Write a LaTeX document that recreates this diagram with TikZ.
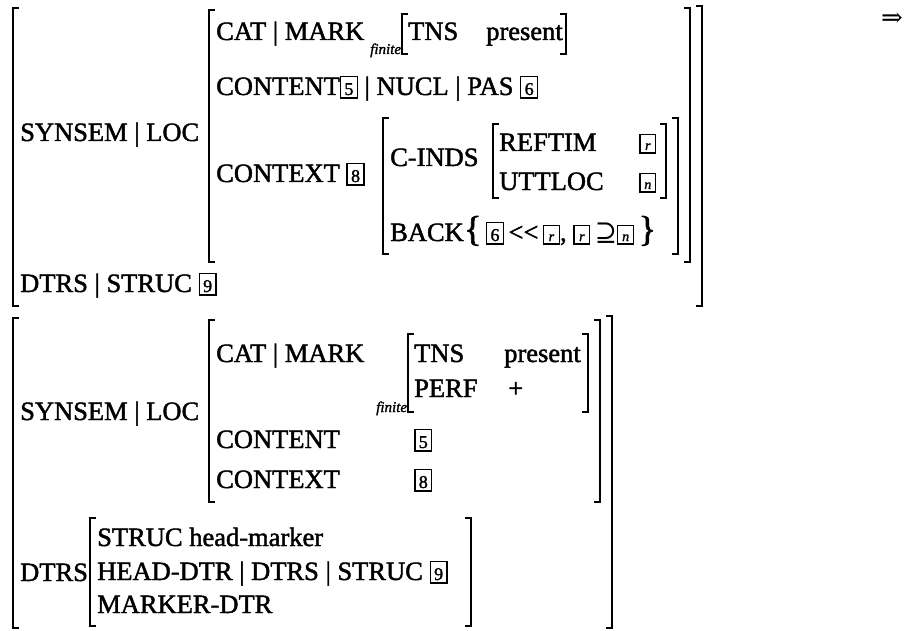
\documentclass[tikz,border=0pt]{standalone}
\usepackage{fontspec}
\setmainfont{Liberation Serif}[FakeBold=1.6]
\newfontfamily\symfont{DejaVu Serif}
\newcommand\fs{\fontsize{26.5}{31}\selectfont}
\newcommand\bx[1]{{\setlength\fboxsep{1.3pt}\setlength\fboxrule{1.3pt}\fbox{\makebox[13pt]{\rule[-1pt]{0pt}{17.5pt}\fontsize{18}{18}\selectfont #1}}}}
\newcommand\sbx[1]{{\setlength\fboxsep{1.3pt}\setlength\fboxrule{1.3pt}\fbox{\makebox[12pt]{\rule[-1pt]{0pt}{14.5pt}\fontsize{14}{14}\selectfont\itshape #1}}}}
\newcommand\LB[3]{\draw[brk] (#1+6,#2) -- (#1,#2) -- (#1,#3) -- (#1+6,#3);}
\newcommand\RB[3]{\draw[brk] (#1-6,#2) -- (#1,#2) -- (#1,#3) -- (#1-6,#3);}
\begin{document}
\begin{tikzpicture}[x=1pt,y=-1pt,
  lbl/.style={anchor=base west,inner sep=0pt,font=\fs},
  sub/.style={anchor=base west,inner sep=0pt,font=\fontsize{15}{15}\selectfont\itshape},
  brk/.style={line width=1.9pt}]
\useasboundingbox (0,0) rectangle (915,631);
% ---------- top AVM ----------
\LB{13}{8}{306}
\RB{702}{6}{306}
\node[lbl] (s1) at (20,141) {SYNSEM | LOC};
\LB{209}{10}{262}
\RB{690}{8}{262}
\node[lbl] (cm1) at (216,40) {CAT | MARK};
\node[sub] (fin1) at (370,54) {finite};
\LB{402}{14}{54}
\RB{566}{14}{54}
\node[lbl] (tns1) at (408,40) {TNS};
\node[lbl] (pr1) at (486,40) {present};
\node[lbl] (ct1) at (216,95) {CONTENT\bx{5} | NUCL | PAS \bx{6}};
\node[lbl] (cx1) at (216,182) {CONTEXT \bx{8}};
\LB{383}{118}{254}
\RB{678}{118}{254}
\node[lbl] (ci1) at (390,166) {C-INDS};
\LB{493}{124}{198}
\RB{666}{124}{198}
\node[lbl] (rt1) at (499,151) {REFTIM};
\node[lbl] (rb1) at (639,150) {\sbx{r}};
\node[lbl] (ut1) at (499,190) {UTTLOC};
\node[lbl] (nb1) at (639,189) {\sbx{n}};
\node[lbl] (bk1) at (390,241) {BACK};
\node[lbl] (bs1) at (464,241) {{\fontsize{36}{36}\selectfont\{}\,\bx{6}\,{<}{<}\,\sbx{r}, \sbx{r}\,{\symfont ⊇}\sbx{n}\,{\fontsize{36}{36}\selectfont\}}};
\node[lbl] (d1) at (20,292) {DTRS | STRUC \bx{9}};
% ---------- bottom AVM ----------
\LB{13}{318}{628}
\RB{612}{316}{628}
\node[lbl] (s2) at (20,420) {SYNSEM | LOC};
\LB{209}{320}{502}
\RB{600}{320}{502}
\node[lbl] (cm2) at (216,362) {CAT | MARK};
\node[sub] (fin2) at (376,412) {finite};
\LB{408}{334}{412}
\RB{588}{334}{412}
\node[lbl] (tns2) at (414,362) {TNS};
\node[lbl] (pr2) at (504,362) {present};
\node[lbl] (pf2) at (414,397) {PERF};
\node[lbl] (pl2) at (508,397) {+};
\node[lbl] (ct2) at (216,448) {CONTENT};
\node[lbl] (b52) at (414,448) {\bx{5}};
\node[lbl] (cx2) at (216,488) {CONTEXT};
\node[lbl] (b82) at (414,488) {\bx{8}};
\node[lbl] (d2) at (20,581) {DTRS};
\LB{90}{518}{626}
\RB{471}{518}{626}
\node[lbl] (st2) at (97,546) {STRUC head-marker};
\node[lbl] (hd2) at (97,580) {HEAD-DTR | DTRS | STRUC \bx{9}};
\node[lbl] (mk2) at (97,613) {MARKER-DTR};
% ---------- arrow ----------
\node[anchor=center,inner sep=0pt,font=\symfont\fontsize{26}{26}\selectfont] (arr) at (892,20) {⇒};
\end{tikzpicture}
\end{document}
